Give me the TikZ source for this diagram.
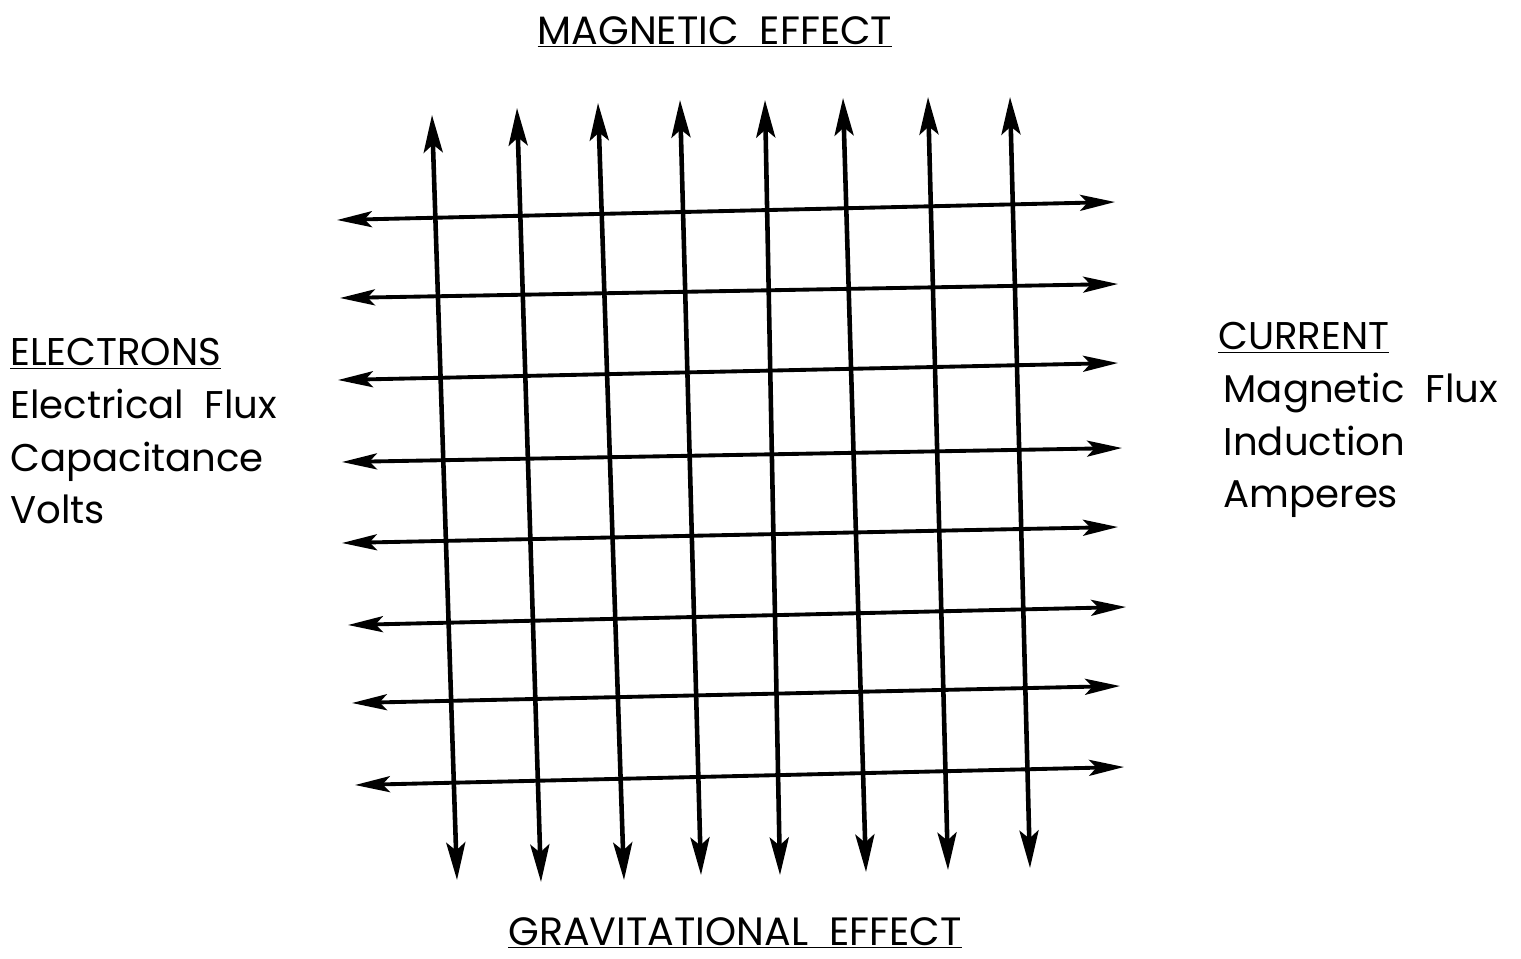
\documentclass[tikz,border=0pt]{standalone}
\usepackage{fontspec}
\setmainfont{Poppins}
\usepackage{tikz}
\usetikzlibrary{arrows.meta}
\tikzset{
    fluxline/.style={draw, line width=2.6pt, {Stealth[length=7.5mm, width=3.8mm, inset=1.6mm]}-{Stealth[length=7.5mm, width=3.8mm, inset=1.6mm]}},
    fieldline/.style={draw, line width=2.2pt, {Stealth[length=7mm, width=3.2mm, inset=1.5mm]}-{Stealth[length=7mm, width=3.2mm, inset=1.5mm]}},
    effectlabel/.style={font=\fontsize{22.5}{26}\selectfont, inner sep=0pt},
    sidelabel/.style={font=\fontsize{22}{30}\selectfont, align=left, anchor=north west, inner sep=0pt}
}

\begin{document}
\begin{tikzpicture}[x=0.02cm, y=-0.02cm]
    \useasboundingbox (0,0) rectangle (1521,958);

    % vertical lines
    \foreach \i/\xa/\ya/\xb/\yb in {1/432/115/457/880, 2/517/108/541/882, 3/598/103/624/880, 4/680/100/701/875,
                                    5/765/100/780/875, 6/843/98/866/872, 7/928/97/948/870, 8/1010/97/1030/868} {
        \coordinate (vtop\i) at (\xa,\ya);
        \coordinate (vbot\i) at (\xb,\yb);
        \draw[fluxline] (vtop\i) -- (vbot\i);
    }

    % horizontal lines
    \foreach \i/\xa/\ya/\xb/\yb in {1/337/220/1115/202, 2/340/298/1118/284, 3/338/380/1118/363, 4/342/462/1122/448,
                                    5/342/543/1118/527, 6/348/625/1126/607, 7/352/703/1120/686, 8/355/785/1124/767} {
        \coordinate (hleft\i) at (\xa,\ya);
        \coordinate (hright\i) at (\xb,\yb);
        \draw[fieldline] (hleft\i) -- (hright\i);
    }

    \node[effectlabel] (magnetic) at (715,32) {\underline{MAGNETIC\ \ EFFECT}};
    \node[effectlabel] (gravity) at (735,933) {\underline{GRAVITATIONAL\ \ EFFECT}};

    \node[sidelabel] (electrons) at (10,338) {\underline{ELECTRONS}\\Electrical\ \ Flux\\Capacitance\\Volts};
    \node[sidelabel] (current) at (1218,322) {\underline{CURRENT}\\\hspace{3pt}Magnetic\ \ Flux\\\hspace{3pt}Induction\\\hspace{3pt}Amperes};
\end{tikzpicture}
\end{document}
